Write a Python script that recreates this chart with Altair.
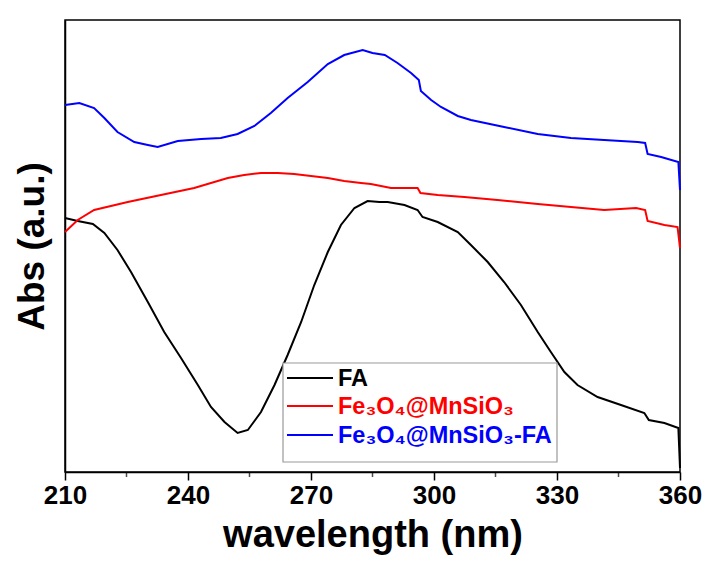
import altair as alt
import pandas as pd

FONT = "Liberation Sans"

names = ["FA", "Fe₃O₄@MnSiO₃", "Fe₃O₄@MnSiO₃-FA"]
colors = ["#000000", "#ff0000", "#0000ff"]

fa_nm = [210, 213.1, 216.8, 219.6, 222.8, 226.1, 230.2, 234.2, 238.3, 242.4, 245.6, 248.9,
         252.1, 254.6, 257.8, 261.1, 264.3, 267.6, 270.8, 274.1, 277.3, 280.6, 283.8, 286.7,
         288.7, 292.8, 296.0, 297.2, 300.9, 305.8, 309.0, 313.1, 317.1, 321.2, 325.3, 328.5,
         331.8, 335.0, 339.9, 345.6, 351.3, 352.4, 356.2, 359.6, 360]
fa_abs = [2.54, 2.51, 2.48, 2.39, 2.22, 2.00, 1.70, 1.40, 1.14, 0.87, 0.65, 0.50,
          0.39, 0.42, 0.60, 0.87, 1.17, 1.50, 1.87, 2.20, 2.47, 2.64, 2.71, 2.70,
          2.70, 2.67, 2.62, 2.55, 2.50, 2.40, 2.27, 2.10, 1.90, 1.67, 1.40, 1.20,
          1.00, 0.87, 0.75, 0.67, 0.59, 0.52, 0.49, 0.44, 0.04]

fm_nm = [210, 213.1, 217.1, 221.2, 225.3, 233.4, 241.5, 249.7, 253.7, 257.8, 261.9, 265.9,
         270.0, 274.1, 278.1, 282.2, 284.6, 289.5, 296.0, 296.7, 300.9, 307.4, 315.5, 325.3,
         333.4, 341.5, 349.3, 351.5, 352.1, 356.2, 359.4, 360]
fm_abs = [2.40, 2.52, 2.62, 2.66, 2.70, 2.77, 2.84, 2.94, 2.97, 2.99, 2.99, 2.98,
          2.96, 2.94, 2.91, 2.89, 2.88, 2.84, 2.84, 2.79, 2.77, 2.75, 2.72, 2.68,
          2.65, 2.62, 2.64, 2.62, 2.51, 2.47, 2.45, 2.24]

fmf_nm = [210, 213.5, 217.1, 219.6, 222.8, 226.9, 230.2, 232.6, 237.5, 243.2, 248.0, 252.1,
          256.2, 260.2, 264.3, 269.2, 274.1, 278.1, 282.6, 285.0, 288.0, 291.1, 294.4, 296.3,
          296.8, 299.3, 301.7, 305.8, 309.0, 317.1, 325.3, 333.4, 341.5, 349.7, 351.5, 352.1,
          355.4, 359.6, 360]
fmf_abs = [3.67, 3.69, 3.64, 3.54, 3.40, 3.30, 3.27, 3.25, 3.31, 3.33, 3.34, 3.38,
           3.46, 3.59, 3.74, 3.90, 4.08, 4.17, 4.22, 4.19, 4.17, 4.09, 3.99, 3.92,
           3.81, 3.72, 3.65, 3.56, 3.52, 3.45, 3.38, 3.34, 3.32, 3.30, 3.29, 3.18,
           3.15, 3.10, 2.82]

major_ticks = [210, 240, 270, 300, 330, 360]
minor_ticks = [225, 255, 285, 315, 345]

rows = []
for name, xs, ys in [(names[0], fa_nm, fa_abs), (names[1], fm_nm, fm_abs), (names[2], fmf_nm, fmf_abs)]:
    for i, (a, b) in enumerate(zip(xs, ys)):
        rows.append({"series": name, "nm": a, "abs": b, "order": i})
df = pd.DataFrame(rows)

xscale = alt.Scale(domain=[210, 360], nice=False, zero=False)
xaxis = alt.Axis(values=major_ticks, title="wavelength (nm)", tickSize=8,
                 labelFlush=False, labelOverlap=False, grid=False,
                 labelFontSize=26, labelFont=FONT, labelFontWeight="bold", labelColor="black",
                 labelPadding=2, titleFontSize=38, titleFont=FONT, titleFontWeight="bold",
                 titleColor="black", titlePadding=8,
                 domainColor="black", domainWidth=1.5, tickColor="black", tickWidth=1.5)

lines = alt.Chart(df).mark_line(strokeWidth=2).encode(
    x=alt.X("nm:Q", scale=xscale, axis=xaxis),
    y=alt.Y("abs:Q", scale=alt.Scale(domain=[0, 4.52], nice=False, zero=False),
            axis=alt.Axis(title="Abs (a.u.)", labels=False, ticks=False, grid=False,
                          titleFontSize=37, titleFont=FONT, titleFontWeight="bold",
                          titleColor="black", titlePadding=14,
                          domainColor="black", domainWidth=1.5)),
    color=alt.Color("series:N", scale=alt.Scale(domain=names, range=colors), legend=None),
    order="order:Q",
)

minor = alt.Chart(pd.DataFrame({"nm": minor_ticks})).mark_tick(
    color="black", size=5, thickness=1.5, orient="vertical"
).encode(x=alt.X("nm:Q", scale=xscale, axis=xaxis), y=alt.value(454.5))

legend_box = alt.Chart(pd.DataFrame({"k": [0]})).mark_rect(
    fill="white", stroke="#999999", strokeWidth=1.2
).encode(x=alt.value(218), x2=alt.value(492), y=alt.value(343), y2=alt.value(442))

legend_rows_y = [358, 386, 415]
legend_layers = []
for name, col, yy in zip(names, colors, legend_rows_y):
    d = pd.DataFrame({"label": [name]})
    legend_layers.append(
        alt.Chart(d).mark_rule(color=col, strokeWidth=2).encode(
            x=alt.value(222), x2=alt.value(268), y=alt.value(yy))
    )
    legend_layers.append(
        alt.Chart(d).mark_text(align="left", baseline="middle", font=FONT, fontWeight="bold",
                               fontSize=23.5, color=col).encode(
            x=alt.value(273), y=alt.value(yy + 1), text="label:N")
    )

chart = alt.layer(lines, minor, legend_box, *legend_layers).properties(
    width=615, height=452,
    padding={"left": 65, "top": 20, "right": 27, "bottom": 89},
    autosize=alt.AutoSizeParams(type="none"),
).configure_view(stroke="black", strokeWidth=1.5)

chart.save("out.html", embed_options={"renderer": "svg", "actions": False})
